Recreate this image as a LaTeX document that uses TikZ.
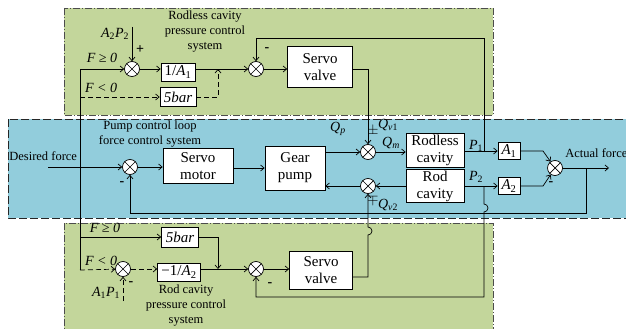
\documentclass[tikz,border=0pt]{standalone}
\usepackage{fontspec}
\setmainfont{Liberation Serif}
\usetikzlibrary{arrows.meta}

\definecolor{regiongreen}{RGB}{195,214,155}
\definecolor{regionblue}{RGB}{146,205,220}

\tikzset{
    >={Straight Barb[length=3.5pt,width=6pt]},
    dsh/.style={dash pattern=on 5pt off 3pt},
    blk/.style={draw,fill=white,align=center,inner sep=1pt,font=\fontsize{15}{17}\selectfont},
    sumj/.style={draw,fill=white,circle,minimum size=15pt,inner sep=0pt,
        path picture={\draw (path picture bounding box.north west)--(path picture bounding box.south east)
            (path picture bounding box.north east)--(path picture bounding box.south west);}},
    lbl/.style={align=center,font=\fontsize{12.5}{15}\selectfont},
    sym/.style={font=\fontsize{14}{16}\selectfont,inner sep=0pt},
    sgn/.style={font=\bfseries\fontsize{14}{16}\selectfont,inner sep=0pt}
}

\begin{document}
\begin{tikzpicture}[x=1pt,y=-1pt,line width=0.7pt]
            \useasboundingbox (0,0) rectangle (626,329);

            \begin{scope}
                \clip (0,0) rectangle (626,329);
                \draw[fill=regiongreen,draw=black!70,dash pattern=on 7pt off 2pt on 1pt off 2pt] (64,8) rectangle (493,115);
                \draw[fill=regionblue,draw=black!85,dash pattern=on 8pt off 3pt] (8,119) rectangle (640,218);
                \draw[fill=regiongreen,draw=black!70,dash pattern=on 7pt off 2pt on 1pt off 2pt] (64,223) rectangle (493,340);
            \end{scope}

            \coordinate (tr1) at (80,69);
            \coordinate (tr2) at (80,97);
            \coordinate (tr3) at (80,237);
            \coordinate (tr4) at (80,270);
            \coordinate (a2p2in) at (132,27);
            \coordinate (j1) at (218,69);
            \coordinate (q1) at (368,69);
            \coordinate (ft1) at (256,38);
            \coordinate (ft2) at (484,38);
            \coordinate (p1j) at (484,152);
            \coordinate (p2j) at (484,186);
            \coordinate (din) at (48,167);
            \coordinate (k1) at (543,151);
            \coordinate (k2) at (543,186);
            \coordinate (br) at (586,168);
            \coordinate (out) at (609,168);
            \coordinate (fb3) at (586,213);
            \coordinate (fb4) at (130,213);
            \coordinate (a1p1in) at (123,301);
            \coordinate (j2) at (218,269);
            \coordinate (q2) at (368,277);
            \coordinate (fb5) at (484,297);
            \coordinate (fb6) at (256,297);

            \node[sumj] (s1) at (132,69) {};
            \node[sumj] (s2) at (256,69) {};
            \node[sumj] (s3) at (130,167) {};
            \node[sumj] (s4) at (368,152) {};
            \node[sumj] (s5) at (368,186) {};
            \node[sumj] (s6) at (555,168) {};
            \node[sumj] (s7) at (123,269) {};
            \node[sumj] (s8) at (256,269) {};

            \node[blk,minimum width=34pt,minimum height=18pt] (ia1) at (178,72) {1/\textit{A}\textsubscript{1}};
            \node[blk,minimum width=36pt,minimum height=19pt] (fb1) at (178,97) {\textit{5bar}};
            \node[blk,minimum width=65pt,minimum height=41pt] (sv1) at (320,67) {Servo\\valve};
            \node[blk,minimum width=70pt,minimum height=35pt] (sm) at (198,166) {Servo\\motor};
            \node[blk,minimum width=60pt,minimum height=44pt] (gp) at (295,168) {Gear\\pump};
            \node[blk,minimum width=58pt,minimum height=34pt] (rl) at (435,150) {Rodless\\cavity};
            \node[blk,minimum width=58pt,minimum height=31pt] (rc) at (435,186) {Rod\\cavity};
            \node[blk,minimum width=22pt,minimum height=17pt] (a1) at (509,151) {\textit{A}\textsubscript{1}};
            \node[blk,minimum width=22pt,minimum height=17pt] (a2) at (509,186) {\textit{A}\textsubscript{2}};
            \node[blk,minimum width=37pt,minimum height=20pt] (fb2) at (180,237) {\textit{5bar}};
            \node[blk,minimum width=43pt,minimum height=18pt] (ia2) at (179,272) {−1/\textit{A}\textsubscript{2}};
            \node[blk,minimum width=63pt,minimum height=38pt] (sv2) at (321,270) {Servo\\valve};

            \node[lbl] (toplbl) at (205,32) {Rodless cavity\\pressure control\\system};
            \node[lbl] (pumplbl) at (150,134) {Pump control loop\\force control system};
            \node[lbl] (botlbl) at (186,306) {Rod cavity\\pressure control\\system};
            \node[lbl,anchor=west,inner sep=0pt] (dlbl) at (9,156) {Desired force};
            \node[lbl,anchor=west,inner sep=0pt] (albl) at (565,153) {Actual force};

            \node[sym] (a2p2) at (115,34) {\textit{A}\textsubscript{2}\textit{P}\textsubscript{2}};
            \node[sym] (fge1) at (102,58) {\textit{F ≥ 0}};
            \node[sym] (flt1) at (101,88) {\textit{F < 0}};
            \node[sym] (fge2) at (105,228) {\textit{F ≥ 0}};
            \node[sym] (flt2) at (101,261) {\textit{F < 0}};
            \node[sym] (a1p1) at (106,293) {\textit{A}\textsubscript{1}\textit{P}\textsubscript{1}};
            \node[sym] (qp) at (338,129) {\textit{Q}\textsubscript{\textit{p}}};
            \node[sym] (pm1) at (373,131) {$\pm$};
            \node[sym] (qv1) at (388,125) {\textit{Q}\textsubscript{\textit{v}1}};
            \node[sym] (qm) at (391,143) {\textit{Q}\textsubscript{\textit{m}}};
            \node[sym] (p1) at (476,146) {\textit{P}\textsubscript{1}};
            \node[sym] (p2) at (476,177) {\textit{P}\textsubscript{2}};
            \node[sym] (mp2) at (373,200) {$\mp$};
            \node[sym] (qv2) at (388,205) {\textit{Q}\textsubscript{\textit{v}2}};

            \node[sgn] (g1) at (140,50) {+};
            \node[sgn] (g2) at (267,50) {-};
            \node[sgn] (g3) at (122,184) {-};
            \node[sgn] (g4) at (551,184) {-};
            \node[sgn] (g5) at (131,284) {-};
            \node[sgn] (g6) at (270,285) {-};

            \draw (tr1) -- (tr4);
            \draw[->] (a2p2in) -- (s1);
            \draw[->] (tr1) -- (s1);
            \draw[->] (s1) -- (s1 -| ia1.west);
            \draw[->] (ia1.east |- s2) -- (s2);
            \draw[dsh,->] (tr2) -- (fb1);
            \draw[dsh,->] (fb1) -| (j1);
            \draw[->] (s2) -- (s2 -| sv1.west);
            \draw[->] (sv1.east |- q1) -- (q1) -- (s4);
            \draw[->] (p1j) -- (ft2) -- (ft1) -- (s2);

            \draw[->] (din) -- (s3);
            \draw[->] (s3) -- (s3 -| sm.west);
            \draw[->] (sm.east |- gp) -- (gp);
            \draw[->] (gp.east |- s4) -- (s4);
            \draw[->] (s4) -- (s4 -| rl.west);
            \draw[->] (rl.east |- a1) -- (a1);
            \draw[->] (rc.east |- a2) -- (a2);
            \draw[->] (rc.west |- s5) -- (s5);
            \draw[->] (s5) -- (s5 -| gp.east);
            \draw[->] (a1) -- (k1) -- (s6);
            \draw[->] (a2) -- (k2) -- (s6);
            \draw[->] (s6) -- (out);
            \draw[->] (br) -- (fb3) -- (fb4) -- (s3);

            \draw[->] (tr3) -- (fb2);
            \draw[->] (fb2) -| (j2);
            \draw[dsh,->] (tr4) -- (s7);
            \draw[dsh,->] (a1p1in) -- (s7);
            \draw[dsh,->] (s7) -- (s7 -| ia2.west);
            \draw[->] (ia2.east |- s8) -- (s8);
            \draw[->] (s8) -- (s8 -| sv2.west);
            \draw[->] (sv2.east |- q2) -- (q2) -- (368,235) arc[start angle=-90,end angle=90,radius=4pt] -- (s5);
            \draw[->] (p2j) -- (484,204) arc[start angle=90,end angle=-90,radius=4pt] -- (fb5) -- (fb6) -- (s8);
        \end{tikzpicture}
\end{document}
